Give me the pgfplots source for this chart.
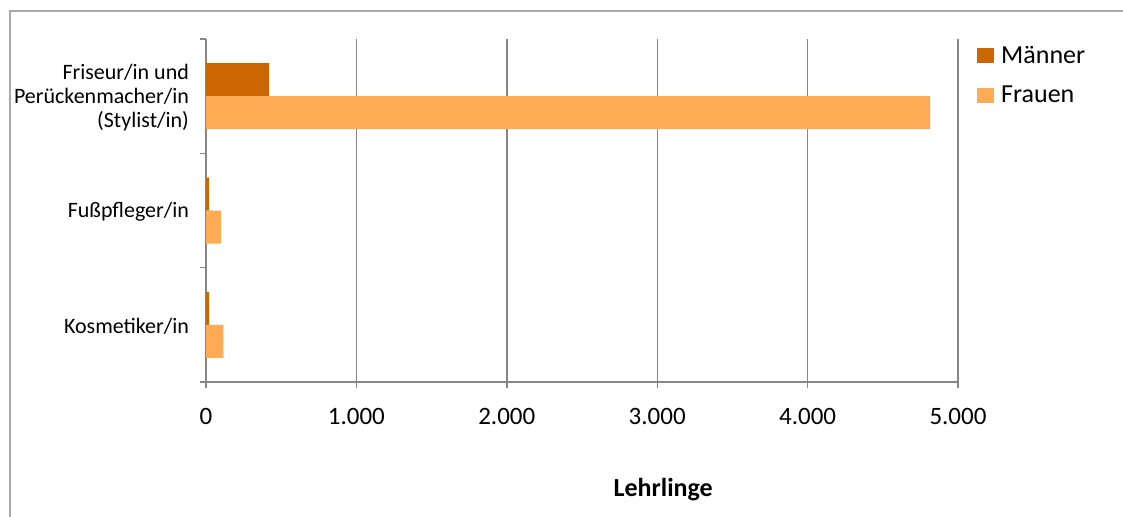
\documentclass[border=0pt]{standalone}
\usepackage{pgfplots}
\pgfplotsset{compat=1.18}
\usepackage{fontspec}
\setmainfont{Carlito}
\definecolor{maenner}{RGB}{204,102,0}
\definecolor{frauen}{RGB}{255,170,85}
\definecolor{axisgray}{RGB}{134,134,134}
\definecolor{bordergray}{RGB}{170,170,170}
\begin{document}
\begin{tikzpicture}
\useasboundingbox (0pt,0pt) rectangle (561.5pt,-258pt);
\draw[bordergray, line width=1pt] (5pt,-260pt) -- (5pt,-5.5pt) -- (563pt,-5.5pt);
\begin{axis}[
  at={(103pt,-191pt)}, anchor=south west,
  scale only axis, width=376pt, height=171.5pt,
  xbar, bar width=16.5pt,
  xmin=0, xmax=5000, ymin=-0.5, ymax=2.5,
  axis x line=bottom, axis y line=left,
  axis line style={-, draw=axisgray, line width=0.7pt},
  xtick={0,1000,2000,3000,4000,5000},
  scaled x ticks=false,
  /pgf/number format/1000 sep={.},
  /pgf/number format/assume math mode=true,
  xmajorgrids, major grid style={draw=axisgray, line width=0.7pt},
  tick align=outside,
  major tick length=3pt, minor tick length=3pt,
  every major x tick/.style={draw=axisgray, line width=0.7pt},
  ytick={0,1,2},
  yticklabels={Kosmetiker/in, Fußpfleger/in, {Friseur/in und\\Perückenmacher/in\\(Stylist/in)}},
  every major y tick/.style={draw=none},
  minor ytick={-0.5,0.5,1.5,2.5},
  every minor y tick/.style={draw=axisgray, line width=0.7pt},
  yticklabel style={align=right, font=\fontsize{11}{12}\selectfont, xshift=-2pt, yshift=-0.8pt},
  xticklabel style={font=\fontsize{12.5}{15}\selectfont, yshift=-6.5pt},
  xlabel={\bfseries Lehrlinge},
  xlabel style={at={(axis description cs:0.608,-0.315)}, anchor=center, font=\fontsize{13}{15}\selectfont},
  legend style={at={(1.025,0.99)}, anchor=north west, draw=none, fill=none,
    font=\fontsize{13}{15}\selectfont, row sep=7pt, inner sep=0pt,
    nodes={inner sep=1.5pt}},
  legend cell align=left,
]
\addplot[fill=maenner, draw=none, bar shift=8.25pt,
  legend image code/.code={\fill[maenner] (0pt,-3.75pt) rectangle (8.5pt,3.75pt); \path (10.5pt,0pt);}]
  coordinates {(20,0) (20,1) (420,2)};
\addplot[fill=frauen, draw=none, bar shift=-8.25pt,
  legend image code/.code={\fill[frauen] (0pt,-3.75pt) rectangle (8.5pt,3.75pt); \path (10.5pt,0pt);}]
  coordinates {(115,0) (100,1) (4815,2)};
\legend{Männer, Frauen}
\end{axis}
\end{tikzpicture}
\end{document}
